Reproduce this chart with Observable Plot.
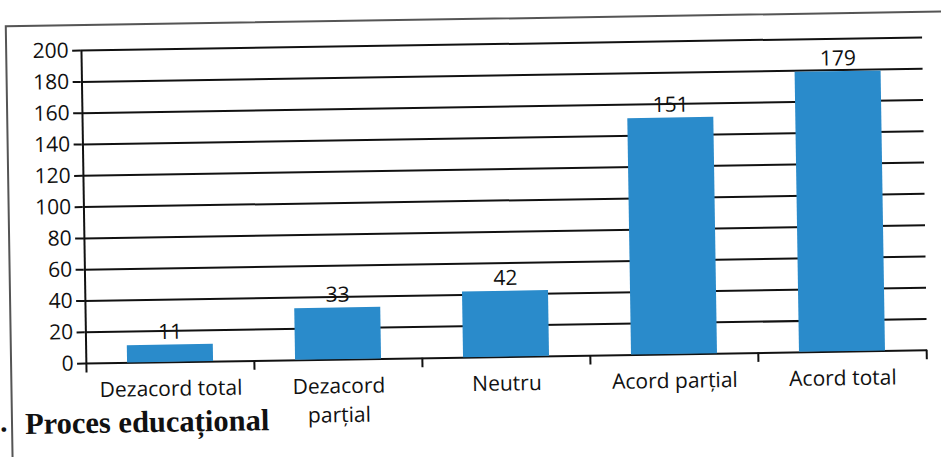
<!DOCTYPE html>
<html>
<head>
<meta charset="utf-8">
<script src="https://cdn.jsdelivr.net/npm/d3@7"></script>
<script src="https://cdn.jsdelivr.net/npm/@observablehq/plot@0.6"></script>
<style>
  html, body { margin: 0; padding: 0; background: #fff; }
  #page { position: relative; width: 941px; height: 457px; overflow: hidden; background: #fff; }
  #rot { position: absolute; left: 0; top: 0; width: 941px; height: 457px; transform: rotate(-0.9deg); transform-origin: 470px 228px; }
  #frame { position: absolute; left: 8px; top: 18px; width: 1000px; height: 460px; border: 2px solid #555; box-sizing: border-box; }
  #chart { position: absolute; left: 0; top: 0; }
  #title { position: absolute; left: 22px; top: 405px; line-height: 0.85; font-family: "Liberation Serif", "DejaVu Serif", serif; font-weight: bold; font-size: 30.5px; color: #111; white-space: nowrap; }
  #dot { position: absolute; left: -3px; top: 402px; line-height: 0.85; font-family: "Liberation Serif", serif; font-weight: bold; font-size: 29px; color: #111; }
</style>
</head>
<body>
<div id="page">
  <div id="rot">
    <div id="frame"></div>
    <div id="chart"></div>
    <div id="dot">.</div>
    <div id="title">Proces educațional</div>
  </div>
</div>
<script>
const categories = ["Dezacord total", "Dezacord parțial", "Neutru", "Acord parțial", "Acord total"];
const tickLabels = ["Dezacord total", "Dezacord\nparțial", "Neutru", "Acord parțial", "Acord total"];
const values = [11, 33, 42, 151, 179];
const yTicks = [0, 20, 40, 60, 80, 100, 120, 140, 160, 180, 200];

const data = categories.map((c, i) => ({category: c, value: values[i]}));

const W = 941, H = 457;
const mL = 83, mR = 16, mT = 44, mB = 100;
const step = (W - mL - mR) / categories.length;
const font = "'Open Sans', 'Noto Sans', sans-serif";

const chart = Plot.plot({
  width: W,
  height: H,
  marginLeft: mL,
  marginRight: mR,
  marginTop: mT,
  marginBottom: mB,
  style: {fontFamily: font, fontSize: "21px", color: "#111", background: "transparent", overflow: "visible"},
  x: {domain: categories, paddingInner: 0.49, paddingOuter: 0.245, label: null},
  y: {domain: [0, 200], label: null},
  marks: [
    Plot.ruleY(yTicks, {y: d => d, stroke: "#111", strokeWidth: 2}),
    Plot.barY(data, {x: "category", y: "value", fill: "#2a8bcb"}),
    Plot.ruleX(categories, {x: d => d, dx: -step / 2, y1: -6, y2: (d, i) => i === 0 ? 200 : 0, stroke: "#111", strokeWidth: 2}),
    Plot.ruleX([categories[categories.length - 1]], {x: d => d, dx: step / 2, y1: -6, y2: 0, stroke: "#111", strokeWidth: 2}),
    Plot.text(data, {x: "category", y: "value", text: d => String(d.value), dy: -13, fontSize: 21, fill: "#111"}),
    Plot.axisY({ticks: yTicks, tickSize: 8, tickPadding: 4, stroke: "#111", strokeWidth: 2, fontSize: 21, label: null}),
    Plot.axisX({tickSize: 0, tickPadding: 13, fontSize: 21, lineHeight: 1.38, label: null,
      tickFormat: d => tickLabels[categories.indexOf(d)]})
  ]
});
document.getElementById("chart").appendChild(chart);
</script>
</body>
</html>
